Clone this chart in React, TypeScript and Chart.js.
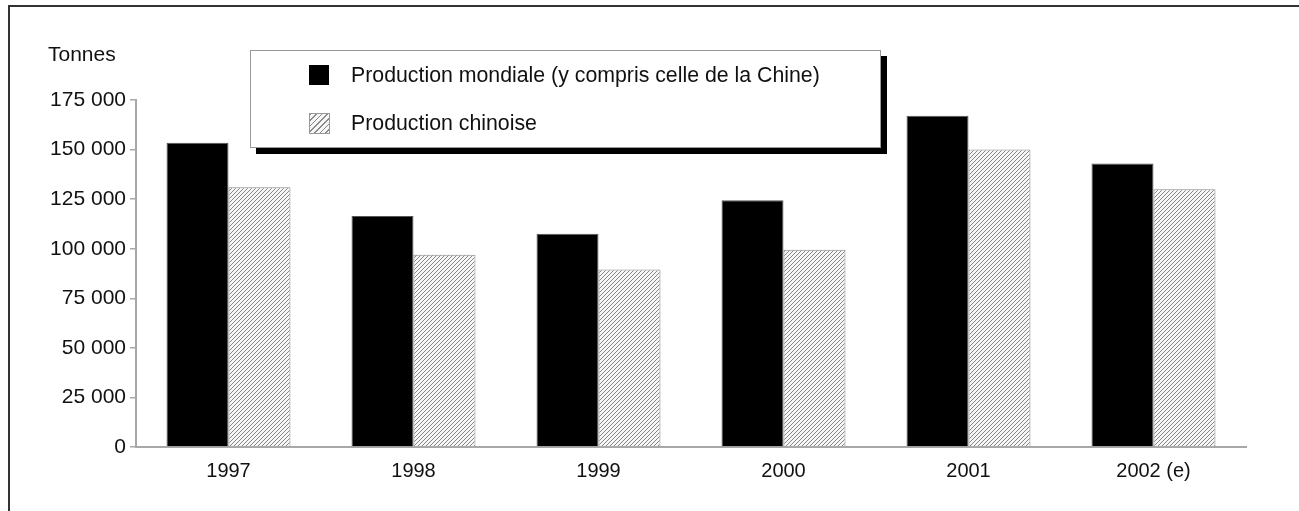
import React, { useEffect, useRef } from "react";
import { Chart, registerables } from "chart.js";

Chart.register(...registerables);

const years = ["1997", "1998", "1999", "2000", "2001", "2002 (e)"];
const worldProduction = [153500, 116500, 107500, 124500, 167000, 143000];
const chinaProduction = [131000, 97000, 89500, 99500, 150000, 130000];
const yTicks = [0, 25000, 50000, 75000, 100000, 125000, 150000, 175000];
const legendLabels = [
  "Production mondiale (y compris celle de la Chine)",
  "Production chinoise",
];
const unitLabel = "Tonnes";

const FONT = "'Liberation Sans', Arial, Helvetica, sans-serif";

function makeHatch(): CanvasPattern | string {
  const c = document.createElement("canvas");
  c.width = 4;
  c.height = 4;
  const g = c.getContext("2d");
  if (!g) return "#ccc";
  g.fillStyle = "#f6f6f6";
  g.fillRect(0, 0, 4, 4);
  g.strokeStyle = "#858585";
  g.lineWidth = 1;
  g.beginPath();
  g.moveTo(0, 4);
  g.lineTo(4, 0);
  g.moveTo(-1, 1);
  g.lineTo(1, -1);
  g.moveTo(3, 5);
  g.lineTo(5, 3);
  g.stroke();
  const p = g.createPattern(c, "repeat");
  return p || "#ccc";
}

const framePlugin = {
  id: "frameAndUnit",
  beforeDraw(chart: any) {
    const ctx = chart.ctx;
    ctx.save();
    ctx.fillStyle = "#ffffff";
    ctx.fillRect(0, 0, chart.width, chart.height);
    ctx.fillStyle = "#333333";
    ctx.fillRect(8, 5, chart.width - 8, 2);
    ctx.fillRect(8, 5, 2, chart.height - 5);
    ctx.fillStyle = "#111111";
    ctx.font = `21px ${FONT}`;
    ctx.textBaseline = "middle";
    ctx.textAlign = "left";
    ctx.fillText(unitLabel, 48, 55);
    ctx.restore();
  },
};

export default function App() {
  const ref = useRef<HTMLCanvasElement | null>(null);

  useEffect(() => {
    if (!ref.current) return;
    const hatch = makeHatch();
    const chart = new Chart(ref.current, {
      type: "bar",
      data: {
        labels: years,
        datasets: [
          {
            label: legendLabels[0],
            data: worldProduction,
            backgroundColor: "#000000",
            borderColor: "#555555",
            borderWidth: 1,
            categoryPercentage: 0.67,
            barPercentage: 1.0,
          },
          {
            label: legendLabels[1],
            data: chinaProduction,
            backgroundColor: hatch as any,
            borderColor: "#8a8a8a",
            borderWidth: 1,
            categoryPercentage: 0.67,
            barPercentage: 1.0,
          },
        ],
      },
      options: {
        responsive: false,
        animation: false,
        layout: { padding: { left: 0, top: 100, right: 53, bottom: 0 } },
        plugins: {
          legend: { display: false },
          title: { display: false },
          tooltip: { enabled: false },
        },
        scales: {
          x: {
            afterFit(scale: any) {
              scale.height = 64;
            },
            grid: { display: false, drawTicks: false },
            border: { display: true, color: "#a8a8a8", width: 2 },
            ticks: {
              color: "#111111",
              font: { family: FONT, size: 20 },
              padding: 12,
            },
          },
          y: {
            min: 0,
            max: 175000,
            afterFit(scale: any) {
              scale.width = 136;
            },
            afterBuildTicks(scale: any) {
              scale.ticks = yTicks.map((v) => ({ value: v }));
            },
            grid: {
              drawOnChartArea: false,
              drawTicks: true,
              tickLength: 6,
              color: "#a8a8a8",
              lineWidth: 1.5,
            },
            border: { display: true, color: "#a8a8a8", width: 2 },
            ticks: {
              color: "#111111",
              font: { family: FONT, size: 21 },
              padding: 4,
              callback: (v: any) =>
                Number(v)
                  .toString()
                  .replace(/\B(?=(\d{3})+(?!\d))/g, " "),
            },
          },
        },
      },
      plugins: [framePlugin],
    });
    return () => chart.destroy();
  }, []);

  const itemText: React.CSSProperties = {
    position: "absolute",
    left: 100,
    fontFamily: FONT,
    fontSize: 21.3,
    color: "#111",
    lineHeight: "24px",
    whiteSpace: "nowrap",
  };

  return (
    <div
      style={{
        position: "fixed",
        left: 0,
        top: 0,
        width: 1299,
        height: 511,
        background: "#fff",
      }}
    >
      <canvas ref={ref} width={1299} height={511} style={{ display: "block" }} />
      <div
        style={{
          position: "absolute",
          left: 250,
          top: 50,
          width: 629,
          height: 96,
          border: "1px solid #999",
          background: "#fff",
          boxShadow: "6px 6px 0 #000",
        }}
      >
        <div
          style={{
            position: "absolute",
            left: 58,
            top: 14,
            width: 20,
            height: 20,
            background: "#000",
          }}
        />
        <div style={{ ...itemText, top: 12 }}>{legendLabels[0]}</div>
        <div
          style={{
            position: "absolute",
            left: 58,
            top: 62,
            width: 19,
            height: 19,
            border: "1px solid #999",
            background:
              "repeating-linear-gradient(135deg, #8a8a8a 0px, #8a8a8a 1px, #f6f6f6 1px, #f6f6f6 4px)",
          }}
        />
        <div style={{ ...itemText, top: 60 }}>{legendLabels[1]}</div>
      </div>
    </div>
  );
}
